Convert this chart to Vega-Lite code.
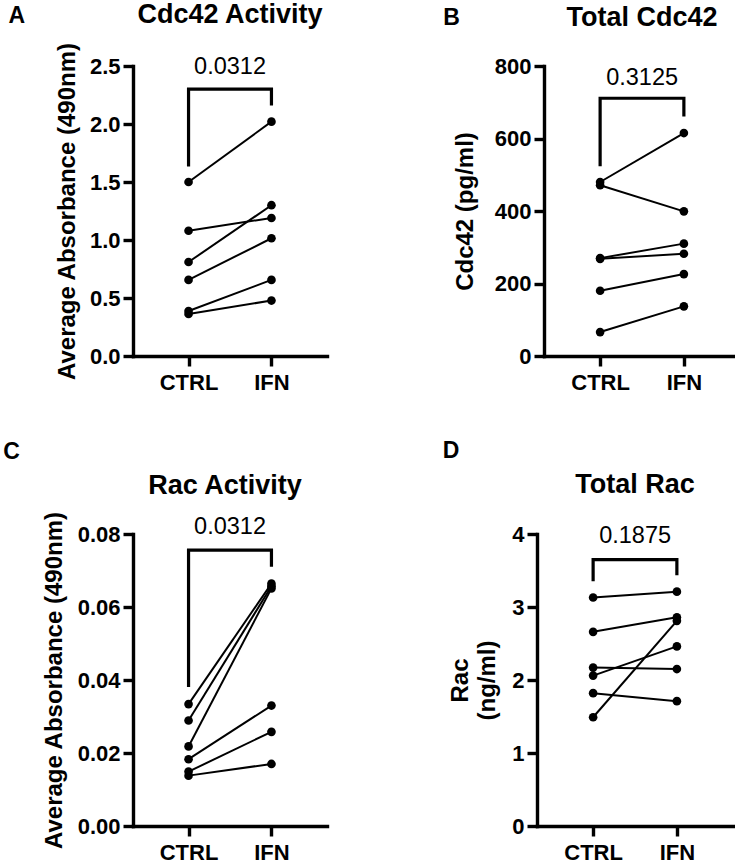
{
  "$schema": "https://vega.github.io/schema/vega-lite/v6.json",
  "background": "white",
  "padding": {"top": 1, "left": 3, "right": 0, "bottom": 0},
  "config": {
    "font": "Liberation Sans",
    "view": {"stroke": null},
    "axis": {
      "grid": false,
      "domainColor": "black",
      "domainWidth": 3.4,
      "domainCap": "square",
      "tickColor": "black",
      "tickWidth": 3.4,
      "tickSize": 10,
      "labelFont": "Liberation Sans",
      "labelFontSize": 22,
      "labelFontWeight": "bold",
      "labelColor": "black",
      "titleFont": "Liberation Sans",
      "titleFontSize": 24,
      "titleFontWeight": "bold",
      "titleColor": "black"
    },
    "axisY": {"labelPadding": 3, "titlePadding": 10},
    "axisX": {"labelPadding": 6, "labelAngle": 0, "title": null},
    "title": {"font": "Liberation Sans", "fontSize": 27, "fontWeight": "bold", "color": "black"}
  },
  "datasets": {
    "cdc42Activity": [
      {"subject": 1, "group": "CTRL", "value": 1.5}, {"subject": 1, "group": "IFN", "value": 2.02},
      {"subject": 2, "group": "CTRL", "value": 1.08}, {"subject": 2, "group": "IFN", "value": 1.19},
      {"subject": 3, "group": "CTRL", "value": 0.81}, {"subject": 3, "group": "IFN", "value": 1.3},
      {"subject": 4, "group": "CTRL", "value": 0.656}, {"subject": 4, "group": "IFN", "value": 1.015},
      {"subject": 5, "group": "CTRL", "value": 0.388}, {"subject": 5, "group": "IFN", "value": 0.656},
      {"subject": 6, "group": "CTRL", "value": 0.362}, {"subject": 6, "group": "IFN", "value": 0.478}
    ],
    "totalCdc42": [
      {"subject": 1, "group": "CTRL", "value": 480}, {"subject": 1, "group": "IFN", "value": 615},
      {"subject": 2, "group": "CTRL", "value": 471}, {"subject": 2, "group": "IFN", "value": 399},
      {"subject": 3, "group": "CTRL", "value": 270}, {"subject": 3, "group": "IFN", "value": 310},
      {"subject": 4, "group": "CTRL", "value": 268}, {"subject": 4, "group": "IFN", "value": 282},
      {"subject": 5, "group": "CTRL", "value": 180}, {"subject": 5, "group": "IFN", "value": 226},
      {"subject": 6, "group": "CTRL", "value": 66}, {"subject": 6, "group": "IFN", "value": 137}
    ],
    "racActivity": [
      {"subject": 1, "group": "CTRL", "value": 0.0334}, {"subject": 1, "group": "IFN", "value": 0.0664},
      {"subject": 2, "group": "CTRL", "value": 0.0289}, {"subject": 2, "group": "IFN", "value": 0.0657},
      {"subject": 3, "group": "CTRL", "value": 0.0218}, {"subject": 3, "group": "IFN", "value": 0.0651},
      {"subject": 4, "group": "CTRL", "value": 0.0183}, {"subject": 4, "group": "IFN", "value": 0.033},
      {"subject": 5, "group": "CTRL", "value": 0.0149}, {"subject": 5, "group": "IFN", "value": 0.0258},
      {"subject": 6, "group": "CTRL", "value": 0.0138}, {"subject": 6, "group": "IFN", "value": 0.017}
    ],
    "totalRac": [
      {"subject": 1, "group": "CTRL", "value": 3.13}, {"subject": 1, "group": "IFN", "value": 3.21},
      {"subject": 2, "group": "CTRL", "value": 2.66}, {"subject": 2, "group": "IFN", "value": 2.86},
      {"subject": 3, "group": "CTRL", "value": 2.17}, {"subject": 3, "group": "IFN", "value": 2.15},
      {"subject": 4, "group": "CTRL", "value": 2.06}, {"subject": 4, "group": "IFN", "value": 2.46},
      {"subject": 5, "group": "CTRL", "value": 1.82}, {"subject": 5, "group": "IFN", "value": 1.71},
      {"subject": 6, "group": "CTRL", "value": 1.49}, {"subject": 6, "group": "IFN", "value": 2.81}
    ],
    "bracketA": [
      {"step": 1, "group": "CTRL", "value": 1.648}, {"step": 2, "group": "CTRL", "value": 2.3},
      {"step": 3, "group": "IFN", "value": 2.3}, {"step": 4, "group": "IFN", "value": 2.173}
    ],
    "bracketB": [
      {"step": 1, "group": "CTRL", "value": 528}, {"step": 2, "group": "CTRL", "value": 711},
      {"step": 3, "group": "IFN", "value": 711}, {"step": 4, "group": "IFN", "value": 665}
    ],
    "bracketC": [
      {"step": 1, "group": "CTRL", "value": 0.0385}, {"step": 2, "group": "CTRL", "value": 0.0756},
      {"step": 3, "group": "IFN", "value": 0.0756}, {"step": 4, "group": "IFN", "value": 0.0715}
    ],
    "bracketD": [
      {"step": 1, "group": "CTRL", "value": 3.375}, {"step": 2, "group": "CTRL", "value": 3.649},
      {"step": 3, "group": "IFN", "value": 3.649}, {"step": 4, "group": "IFN", "value": 3.457}
    ],
    "pA": [{"label": "0.0312", "value": 2.49}],
    "pB": [{"label": "0.3125", "value": 767}],
    "pC": [{"label": "0.0312", "value": 0.082}],
    "pD": [{"label": "0.1875", "value": 3.97}]
  },
  "spacing": 47,
  "vconcat": [
    {
      "spacing": 116,
      "hconcat": [
        {
          "title": {"text": "A", "anchor": "start", "frame": "bounds", "fontSize": 23, "dx": -47, "dy": 31},
          "vconcat": [
            {
              "width": 194,
              "height": 290,
              "title": {"text": "Cdc42 Activity", "anchor": "middle", "frame": "group", "offset": 13},
              "encoding": {
                "x": {"field": "group", "type": "nominal", "scale": {"type": "point", "padding": 0.67, "domain": ["CTRL", "IFN"]}}
              },
              "layer": [
                {
                  "data": {"name": "cdc42Activity"},
                  "mark": {"type": "line", "color": "black", "strokeWidth": 2},
                  "encoding": {
                    "detail": {"field": "subject"},
                    "y": {"field": "value", "type": "quantitative", "scale": {"domain": [0, 2.5], "nice": false},
                      "axis": {"title": "Average Absorbance (490nm)", "values": [0, 0.5, 1, 1.5, 2, 2.5], "format": ".1f"}}
                  }
                },
                {
                  "data": {"name": "cdc42Activity"},
                  "mark": {"type": "circle", "color": "black", "opacity": 1, "size": 75},
                  "encoding": {"y": {"field": "value", "type": "quantitative"}}
                },
                {
                  "data": {"name": "bracketA"},
                  "mark": {"type": "line", "color": "black", "strokeWidth": 3.2, "strokeJoin": "miter", "strokeCap": "square"},
                  "encoding": {"order": {"field": "step"}, "y": {"field": "value", "type": "quantitative"}}
                },
                {
                  "data": {"name": "pA"},
                  "mark": {"type": "text", "fontSize": 23.5, "fontWeight": "normal", "color": "black", "baseline": "middle", "dx": 41.5},
                  "encoding": {"x": {"datum": "CTRL"}, "y": {"field": "value", "type": "quantitative"}, "text": {"field": "label"}}
                }
              ]
            }
          ]
        },
        {
          "title": {"text": "B", "anchor": "start", "frame": "bounds", "fontSize": 23, "dx": -10, "dy": 30},
          "vconcat": [
            {
              "width": 196,
              "height": 290,
              "title": {"text": "Total Cdc42", "anchor": "middle", "frame": "group", "offset": 23},
              "encoding": {
                "x": {"field": "group", "type": "nominal", "scale": {"type": "point", "padding": 0.67, "domain": ["CTRL", "IFN"]}}
              },
              "layer": [
                {
                  "data": {"name": "totalCdc42"},
                  "mark": {"type": "line", "color": "black", "strokeWidth": 2},
                  "encoding": {
                    "detail": {"field": "subject"},
                    "y": {"field": "value", "type": "quantitative", "scale": {"domain": [0, 800], "nice": false},
                      "axis": {"title": "Cdc42 (pg/ml)", "values": [0, 200, 400, 600, 800], "format": "d", "titlePadding": 17}}
                  }
                },
                {
                  "data": {"name": "totalCdc42"},
                  "mark": {"type": "circle", "color": "black", "opacity": 1, "size": 75},
                  "encoding": {"y": {"field": "value", "type": "quantitative"}}
                },
                {
                  "data": {"name": "bracketB"},
                  "mark": {"type": "line", "color": "black", "strokeWidth": 3.2, "strokeJoin": "miter", "strokeCap": "square"},
                  "encoding": {"order": {"field": "step"}, "y": {"field": "value", "type": "quantitative"}}
                },
                {
                  "data": {"name": "pB"},
                  "mark": {"type": "text", "fontSize": 23.5, "fontWeight": "normal", "color": "black", "baseline": "middle", "dx": 42},
                  "encoding": {"x": {"datum": "CTRL"}, "y": {"field": "value", "type": "quantitative"}, "text": {"field": "label"}}
                }
              ]
            }
          ]
        }
      ]
    },
    {
      "spacing": 115,
      "hconcat": [
        {
          "title": {"text": "C", "anchor": "start", "frame": "bounds", "fontSize": 23, "dx": -39, "offset": 8},
          "vconcat": [
            {
              "width": 194,
              "height": 292,
              "title": {"text": "Rac Activity", "anchor": "middle", "frame": "group", "offset": 11, "dx": -5},
              "encoding": {
                "x": {"field": "group", "type": "nominal", "scale": {"type": "point", "padding": 0.67, "domain": ["CTRL", "IFN"]}}
              },
              "layer": [
                {
                  "data": {"name": "racActivity"},
                  "mark": {"type": "line", "color": "black", "strokeWidth": 2},
                  "encoding": {
                    "detail": {"field": "subject"},
                    "y": {"field": "value", "type": "quantitative", "scale": {"domain": [0, 0.08], "nice": false},
                      "axis": {"title": "Average Absorbance (490nm)", "values": [0, 0.02, 0.04, 0.06, 0.08], "format": ".2f", "titlePadding": 11}}
                  }
                },
                {
                  "data": {"name": "racActivity"},
                  "mark": {"type": "circle", "color": "black", "opacity": 1, "size": 75},
                  "encoding": {"y": {"field": "value", "type": "quantitative"}}
                },
                {
                  "data": {"name": "bracketC"},
                  "mark": {"type": "line", "color": "black", "strokeWidth": 3.2, "strokeJoin": "miter", "strokeCap": "square"},
                  "encoding": {"order": {"field": "step"}, "y": {"field": "value", "type": "quantitative"}}
                },
                {
                  "data": {"name": "pC"},
                  "mark": {"type": "text", "fontSize": 23.5, "fontWeight": "normal", "color": "black", "baseline": "middle", "dx": 41.5},
                  "encoding": {"x": {"datum": "CTRL"}, "y": {"field": "value", "type": "quantitative"}, "text": {"field": "label"}}
                }
              ]
            }
          ]
        },
        {
          "title": {"text": "D", "anchor": "start", "frame": "bounds", "fontSize": 23, "dx": -6, "offset": 8},
          "vconcat": [
            {
              "width": 196,
              "height": 292,
              "title": {"text": "Total Rac", "anchor": "middle", "frame": "group", "offset": 24},
              "encoding": {
                "x": {"field": "group", "type": "nominal", "scale": {"type": "point", "padding": 0.67, "domain": ["CTRL", "IFN"]}}
              },
              "layer": [
                {
                  "data": {"name": "totalRac"},
                  "mark": {"type": "line", "color": "black", "strokeWidth": 2},
                  "encoding": {
                    "detail": {"field": "subject"},
                    "y": {"field": "value", "type": "quantitative", "scale": {"domain": [0, 4], "nice": false},
                      "axis": {"title": ["Rac", "(ng/ml)"], "titleLineHeight": 27, "values": [0, 1, 2, 3, 4], "format": "d", "titlePadding": 12}}
                  }
                },
                {
                  "data": {"name": "totalRac"},
                  "mark": {"type": "circle", "color": "black", "opacity": 1, "size": 75},
                  "encoding": {"y": {"field": "value", "type": "quantitative"}}
                },
                {
                  "data": {"name": "bracketD"},
                  "mark": {"type": "line", "color": "black", "strokeWidth": 3.2, "strokeJoin": "miter", "strokeCap": "square"},
                  "encoding": {"order": {"field": "step"}, "y": {"field": "value", "type": "quantitative"}}
                },
                {
                  "data": {"name": "pD"},
                  "mark": {"type": "text", "fontSize": 23.5, "fontWeight": "normal", "color": "black", "baseline": "middle", "dx": 42},
                  "encoding": {"x": {"datum": "CTRL"}, "y": {"field": "value", "type": "quantitative"}, "text": {"field": "label"}}
                }
              ]
            }
          ]
        }
      ]
    }
  ]
}
